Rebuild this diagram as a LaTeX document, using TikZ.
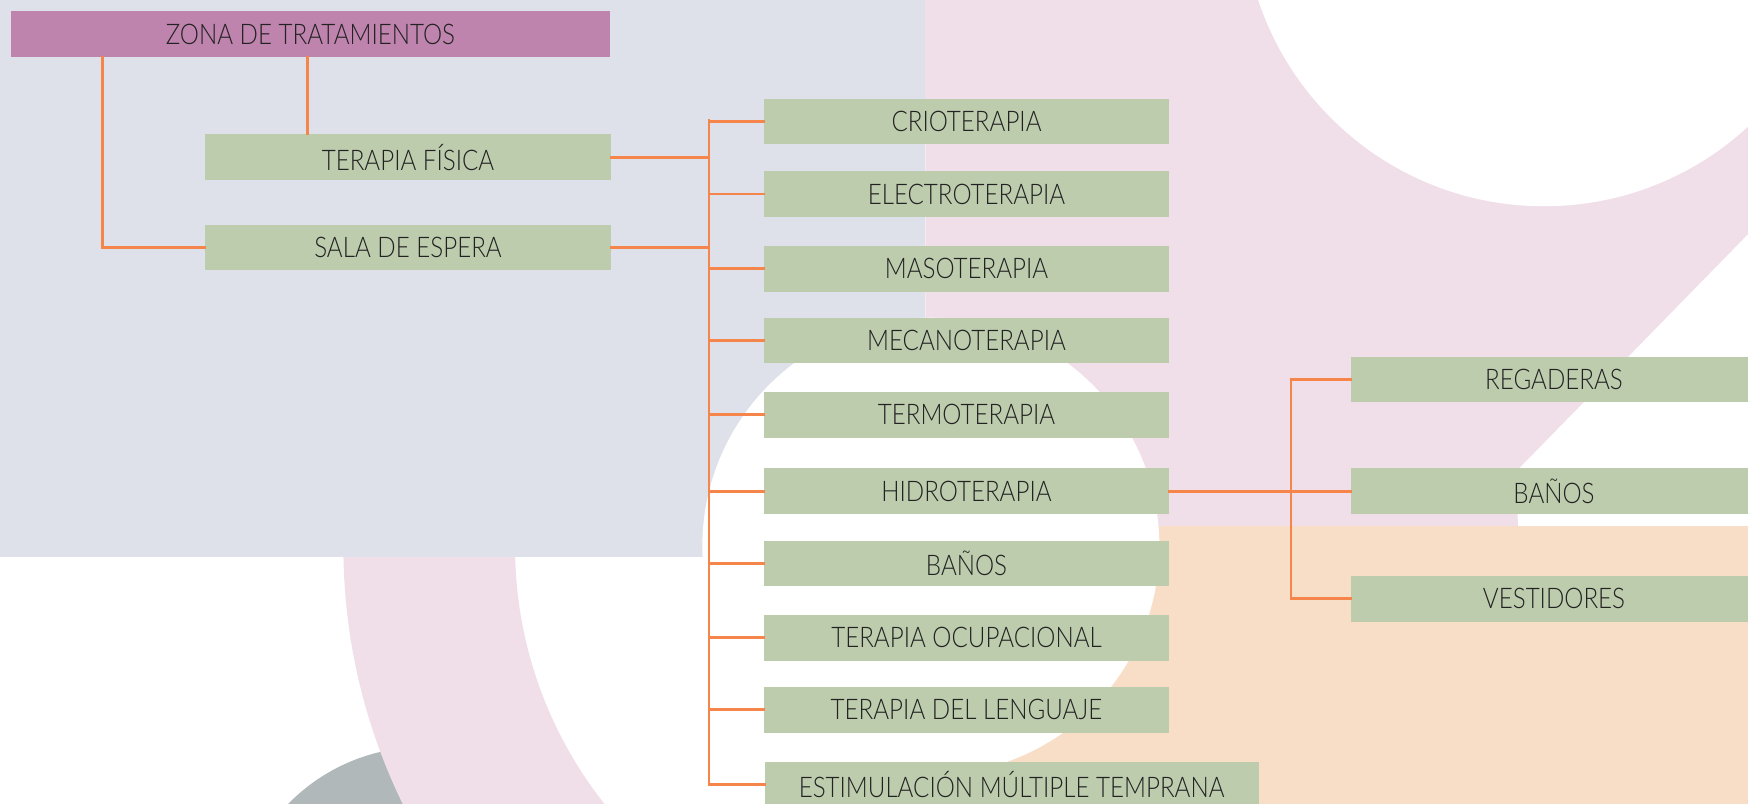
\documentclass[tikz,border=0pt]{standalone}
\usepackage{fontspec}
\setmainfont{Lato}[UprightFont=* Light, FakeStretch=0.85]
\definecolor{bluebg}{HTML}{DEE1EA}
\definecolor{pinkbg}{HTML}{F0DFE9}
\definecolor{peachbg}{HTML}{F9DEC7}
\definecolor{graybg}{HTML}{B1B8B9}
\definecolor{boxgreen}{HTML}{BECCAE}
\definecolor{zonacol}{HTML}{BF84AE}
\definecolor{conncol}{HTML}{F5854B}
\definecolor{txtcol}{HTML}{222222}
\tikzset{
  gbox/.style={fill=boxgreen, minimum width=364pt, minimum height=41pt, inner sep=0pt,
    text=txtcol, font=\fontsize{25.5}{30}\selectfont},
  zbox/.style={gbox, fill=zonacol, minimum width=537pt},
  conn/.style={draw=conncol, line width=2.4pt, line cap=rect}
}
\begin{document}
\begin{tikzpicture}[x=1pt,y=-1pt]
\useasboundingbox (0,0) rectangle (1568,721);
\clip (0,0) rectangle (1568,721);
% background decoration
\fill[white] (0,0) rectangle (1568,721);
\fill[graybg] (380,840) circle[radius=170pt];
\fill[pinkbg, even odd rule] (835,490) circle[radius=527pt] (835,490) circle[radius=373pt];
\fill[pinkbg] (830,0) -- (1568,0) -- (1568,210) -- (1304,480) -- (830,480) -- cycle;
\fill[bluebg] (0,0) rectangle (830,500);
\fill[peachbg] (880,472) rectangle (1568,721);
\fill[white] (835,490) circle[radius=205pt];
\fill[white] (1385,-85) circle[radius=270pt];
% nodes
\node[zbox] (zona) at (278.5,30.5) {ZONA DE TRATAMIENTOS};
\node[gbox] (tf) at (366,141) {TERAPIA FÍSICA};
\node[gbox] (sala) at (366,222) {SALA DE ESPERA};
\node[gbox] (crio) at (867,109) {CRIOTERAPIA};
\node[gbox] (elec) at (867,174) {ELECTROTERAPIA};
\node[gbox] (maso) at (867,241) {MASOTERAPIA};
\node[gbox] (meca) at (867,305.5) {MECANOTERAPIA};
\node[gbox] (termo) at (867,372) {TERMOTERAPIA};
\node[gbox] (hidro) at (867,440.7) {HIDROTERAPIA};
\node[gbox] (banos) at (867,505.5) {BAÑOS};
\node[gbox] (tocup) at (867,572) {TERAPIA OCUPACIONAL};
\node[gbox] (tleng) at (867,636.7) {TERAPIA DEL LENGUAJE};
\node[gbox, minimum width=443pt] (est) at (907.5,704) {ESTIMULACIÓN MÚLTIPLE TEMPRANA};
\node[gbox] (rega) at (1394,340.5) {REGADERAS};
\node[gbox] (ban2) at (1394,440.7) {BAÑOS};
\node[gbox] (vest) at (1394,537) {VESTIDORES};
% connector columns
\coordinate (tk) at (636,0);
\coordinate (tk2) at (1158,0);
% connectors
\draw[conn] ([xshift=82pt]zona.south west) |- (sala.west);
\draw[conn] ([xshift=92pt]tf.north west) -- ([xshift=92pt]tf.north west |- zona.south);
\draw[conn] (tf.east) -- (tf.east -| tk);
\draw[conn] (sala.east) -- (sala.east -| tk);
\draw[conn] ([yshift=1pt]crio.west -| tk) -- (est.west -| tk);
\foreach \n in {crio,elec,maso,meca,termo,hidro,banos,tocup,tleng,est}
  \draw[conn] (\n.west -| tk) -- (\n.west);
\draw[conn] (hidro.east) -- (ban2.west);
\draw[conn] (rega.west -| tk2) -- (vest.west -| tk2);
\draw[conn] (rega.west -| tk2) -- (rega.west);
\draw[conn] (vest.west -| tk2) -- (vest.west);
\end{tikzpicture}
\end{document}
